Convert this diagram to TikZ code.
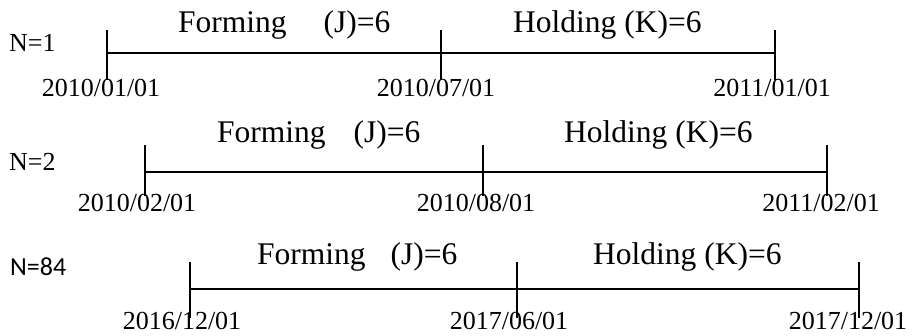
\documentclass[tikz,border=0pt]{standalone}
\usepackage{fontspec}
\setmainfont{Liberation Serif}
\newfontfamily\calibrifont{Carlito}
\usepackage{tikz}

\tikzset{
  period/.style={font=\fontsize{31.5}{36}\selectfont, anchor=base west, inner sep=0pt},
  datelbl/.style={font=\fontsize{26}{30}\selectfont, anchor=base, inner sep=0pt},
  rowlbl/.style={font=\fontsize{26}{30}\selectfont, anchor=base west, inner sep=0pt},
  axis/.style={line width=1.6pt},
  tick/.style={line width=1.4pt}
}

\begin{document}
\begin{tikzpicture}[x=1pt,y=-1pt]
\useasboundingbox (0,0) rectangle (912,336);
% N=1
\coordinate (a1) at (107,53);
\coordinate (b1) at (441,53);
\coordinate (c1) at (775,53);
\draw[axis] (a1) -- (c1);
\draw[tick] (107,30) -- (107,80);
\draw[tick] (441,30) -- (441,80);
\draw[tick] (775,30) -- (775,80);
\node[rowlbl] (n1) at (9,52) {N=1};
\node[period] (f1) at (178,33) {Forming\hspace{37pt}(J)=6};
\node[period] (h1) at (513,33) {Holding (K)=6};
\node[datelbl] (d11) at (101,97) {2010/01/01};
\node[datelbl] (d12) at (436,97) {2010/07/01};
\node[datelbl] (d13) at (772,97) {2011/01/01};
% N=2
\coordinate (a2) at (145,172);
\coordinate (b2) at (483,172);
\coordinate (c2) at (827,172);
\draw[axis] (a2) -- (c2);
\draw[tick] (145,145) -- (145,196);
\draw[tick] (483,145) -- (483,196);
\draw[tick] (827,145) -- (827,196);
\node[rowlbl] (n2) at (9,171) {N=2};
\node[period] (f2) at (217,143) {Forming\hspace{28pt}(J)=6};
\node[period] (h2) at (564,143) {Holding (K)=6};
\node[datelbl] (d21) at (137,212) {2010/02/01};
\node[datelbl] (d22) at (476,212) {2010/08/01};
\node[datelbl] (d23) at (821,212) {2011/02/01};
% N=84
\coordinate (a3) at (190,289);
\coordinate (b3) at (517,289);
\coordinate (c3) at (859,289);
\draw[axis] (a3) -- (c3);
\draw[tick] (190,262) -- (190,318);
\draw[tick] (517,262) -- (517,318);
\draw[tick] (859,262) -- (859,318);
\node[rowlbl, font=\calibrifont\fontsize{26}{30}\selectfont] (n3) at (10,276) {N=84};
\node[period] (f3) at (257,265) {Forming\hspace{25pt}(J)=6};
\node[period] (h3) at (593,265) {Holding (K)=6};
\node[datelbl] (d31) at (182,330) {2016/12/01};
\node[datelbl] (d32) at (509,330) {2017/06/01};
\node[datelbl] (d33) at (848,330) {2017/12/01};
\end{tikzpicture}
\end{document}
